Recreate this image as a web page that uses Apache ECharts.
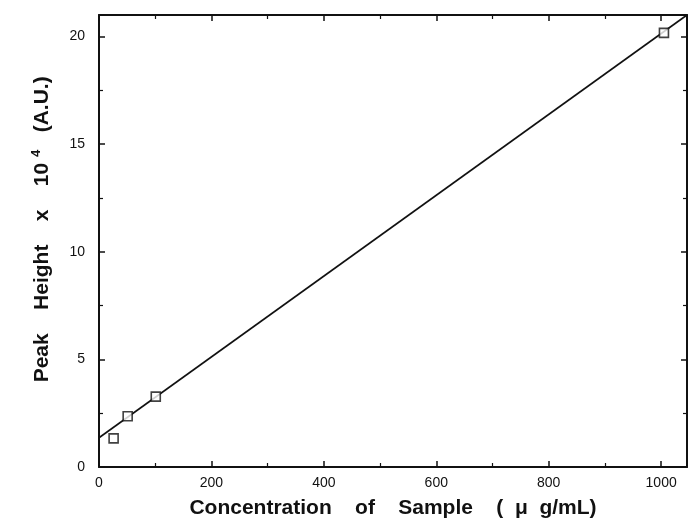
<!DOCTYPE html>
<html>
<head>
<meta charset="utf-8">
<script src="https://cdn.jsdelivr.net/npm/echarts@6/dist/echarts.min.js"></script>
<style>
  html, body { margin: 0; padding: 0; background: #fff; }
  #chart { width: 689px; height: 531px; }
</style>
</head>
<body>
<div id="chart"></div>
<script>
// measured points (concentration, peak height x 10^4)
var concentration = [26, 51, 101, 1005];
var peakHeight = [1.33, 2.36, 3.27, 20.17];
// fitted calibration line end points
var fitX = [0, 1046];
var fitY = [1.36, 21.0];

var pts = [];
for (var i = 0; i < concentration.length; i++) {
    pts.push([concentration[i], peakHeight[i]]);
}
var fitLine = [];
for (var j = 0; j < fitX.length; j++) {
    fitLine.push([fitX[j], fitY[j]]);
}

var font = 'Liberation Sans, Arial, Helvetica, sans-serif';
var black = '#111';

var axisBase = function(extra) {
    var o = {
        type: 'value',
        axisLine: { show: true, onZero: false, lineStyle: { color: black, width: 2 } },
        axisTick: { show: true, inside: true, length: 6, lineStyle: { color: black, width: 1.5 } },
        minorTick: { show: true, splitNumber: 2, length: 4, lineStyle: { color: black, width: 1.2 } },
        splitLine: { show: false },
        axisLabel: { show: false }
    };
    for (var k in extra) o[k] = extra[k];
    return o;
};

var option = {
    animation: false,
    backgroundColor: '#fff',
    grid: { left: 99, right: 2, top: 15, bottom: 64, containLabel: false },
    xAxis: [
        axisBase({
            position: 'bottom',
            min: 0, max: 1046, interval: 200,
            axisLabel: {
                show: true, showMaxLabel: false, margin: 9, color: black, fontSize: 14, fontFamily: font,
                formatter: function(v) { return String(v); }
            },
            name: 'Concentration    of    Sample    (  \u03bc  g/mL)',
            nameLocation: 'middle',
            nameGap: 31,
            nameTextStyle: { color: black, fontSize: 21, fontWeight: 'bold', fontFamily: font }
        }),
        axisBase({ position: 'top', min: 0, max: 1046, interval: 200 })
    ],
    yAxis: [
        axisBase({
            position: 'left',
            min: 0, max: 21, interval: 5,
            axisLabel: { show: true, showMaxLabel: false, margin: 14, color: black, fontSize: 14, fontFamily: font },
            name: '{t|    Peak    Height    x    10 }{s|4}{t|   (A.U.)}',
            nameLocation: 'middle',
            nameGap: 44,
            nameTextStyle: {
                color: black, fontFamily: font,
                rich: {
                    t: { fontSize: 21, fontWeight: 'bold', fontFamily: font, color: black },
                    s: { fontSize: 13, fontWeight: 'bold', fontFamily: font, color: black, verticalAlign: 'top', padding: [0, 0, 12, 0] }
                }
            }
        }),
        axisBase({ position: 'right', min: 0, max: 21, interval: 5 })
    ],
    series: [
        {
            type: 'line',
            data: fitLine,
            showSymbol: false,
            symbol: 'none',
            lineStyle: { color: black, width: 1.6 },
            z: 2
        },
        {
            type: 'scatter',
            data: pts,
            symbol: 'rect',
            symbolSize: 9,
            itemStyle: { color: '#fff', borderColor: black, borderWidth: 1.6 },
            z: 3
        }
    ]
};

var myChart = echarts.init(document.getElementById('chart'));
myChart.setOption(option);
</script>
</body>
</html>
